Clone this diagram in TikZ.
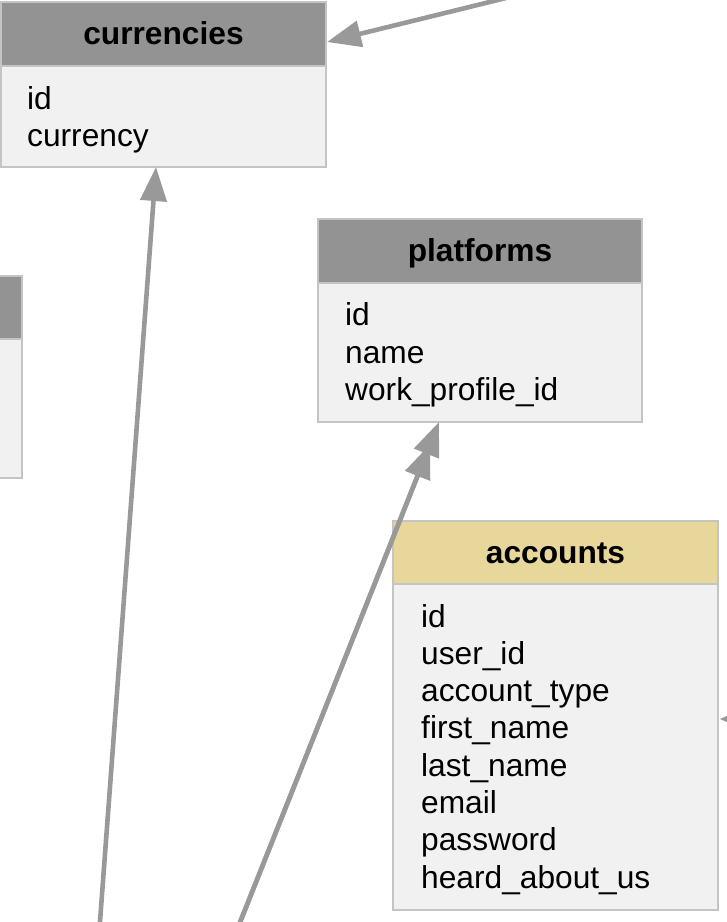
\documentclass[tikz,border=0pt]{standalone}
\usepackage{fontspec}
\setmainfont{Liberation Sans}
\usetikzlibrary{arrows.meta,calc}
\definecolor{hdrgray}{HTML}{939393}
\definecolor{hdrgold}{HTML}{E8D79B}
\definecolor{bodyfill}{HTML}{F1F1F1}
\definecolor{bordercol}{HTML}{C4C4C4}
\definecolor{arrowcol}{HTML}{999999}
\tikzset{
  tbl/.style={draw=bordercol, line width=2pt, rectangle, inner sep=0pt, outer sep=0pt, anchor=north west},
  hdr/.style={tbl, fill=hdrgray, font=\fontsize{31.7}{38}\selectfont\bfseries, text height=21pt, text depth=0pt},
  hdrg/.style={hdr, fill=hdrgold},
  tbody/.style={tbl, fill=bodyfill},
  field/.style={anchor=base west, inner sep=0pt, font=\fontsize{31.7}{38}\selectfont},
  fk/.style={draw=arrowcol, line width=4.6pt, -{Triangle[length=34pt,width=26pt]}},
  fksmall/.style={draw=arrowcol, line width=1pt, -{Triangle[length=7pt,width=6pt]}}
}
\begin{document}
\begin{tikzpicture}[x=1pt,y=-1pt]
\useasboundingbox (0,0) rectangle (727,922);
% left partial table
\node[hdr, minimum width=42pt, minimum height=63pt] (left-h) at (-20,276) {};
\node[tbody, minimum width=42pt, minimum height=139pt] (left-b) at (-20,339) {};
% currencies
\node[hdr, minimum width=325pt, minimum height=64pt] (cur-h) at (1,2) {currencies};
\node[tbody, minimum width=325pt, minimum height=101pt] (cur-b) at (1,66) {};
\node[field] (cur-f1) at (27,109) {id};
\node[field] (cur-f2) at (27,146) {currency};
% platforms
\node[hdr, minimum width=324pt, minimum height=64pt] (plat-h) at (318,219) {platforms};
\node[tbody, minimum width=324pt, minimum height=139pt] (plat-b) at (318,283) {};
\node[field] (plat-f1) at (345,325.5) {id};
\node[field] (plat-f2) at (345,363) {name};
\node[field] (plat-f3) at (345,400.5) {work\_profile\_id};
% accounts
\node[hdrg, minimum width=325pt, minimum height=63pt] (acc-h) at (393,521) {accounts};
\node[tbody, minimum width=325pt, minimum height=326pt] (acc-b) at (393,584) {};
\node[field] (acc-f1) at (421,627) {id};
\node[field] (acc-f2) at (421,664.3) {user\_id};
\node[field] (acc-f3) at (421,701.6) {account\_type};
\node[field] (acc-f4) at (421,738.9) {first\_name};
\node[field] (acc-f5) at (421,776.2) {last\_name};
\node[field] (acc-f6) at (421,813.5) {email};
\node[field] (acc-f7) at (421,850.8) {password};
\node[field] (acc-f8) at (421,888.1) {heard\_about\_us};
% connectors
\coordinate (s1) at (510,-3);
\coordinate (s2) at (99,935);
\coordinate (s3) at (235,935);
\coordinate (s4) at (745,719);
\draw[fk] (s1) -- ($(cur-h.east)+(1,8)$);
\draw[fk] (s2) -- ($(cur-b.south)+(-7.5,0)$);
\draw[fk] (s3) -- ($(plat-b.south)+(-41,0)$);
\draw[fk, shorten >=24pt] (s3) -- ($(plat-b.south)+(-41,0)$);
\draw[fksmall] (s4) -- ($(acc-b.east)+(2,-28)$);
\end{tikzpicture}
\end{document}
